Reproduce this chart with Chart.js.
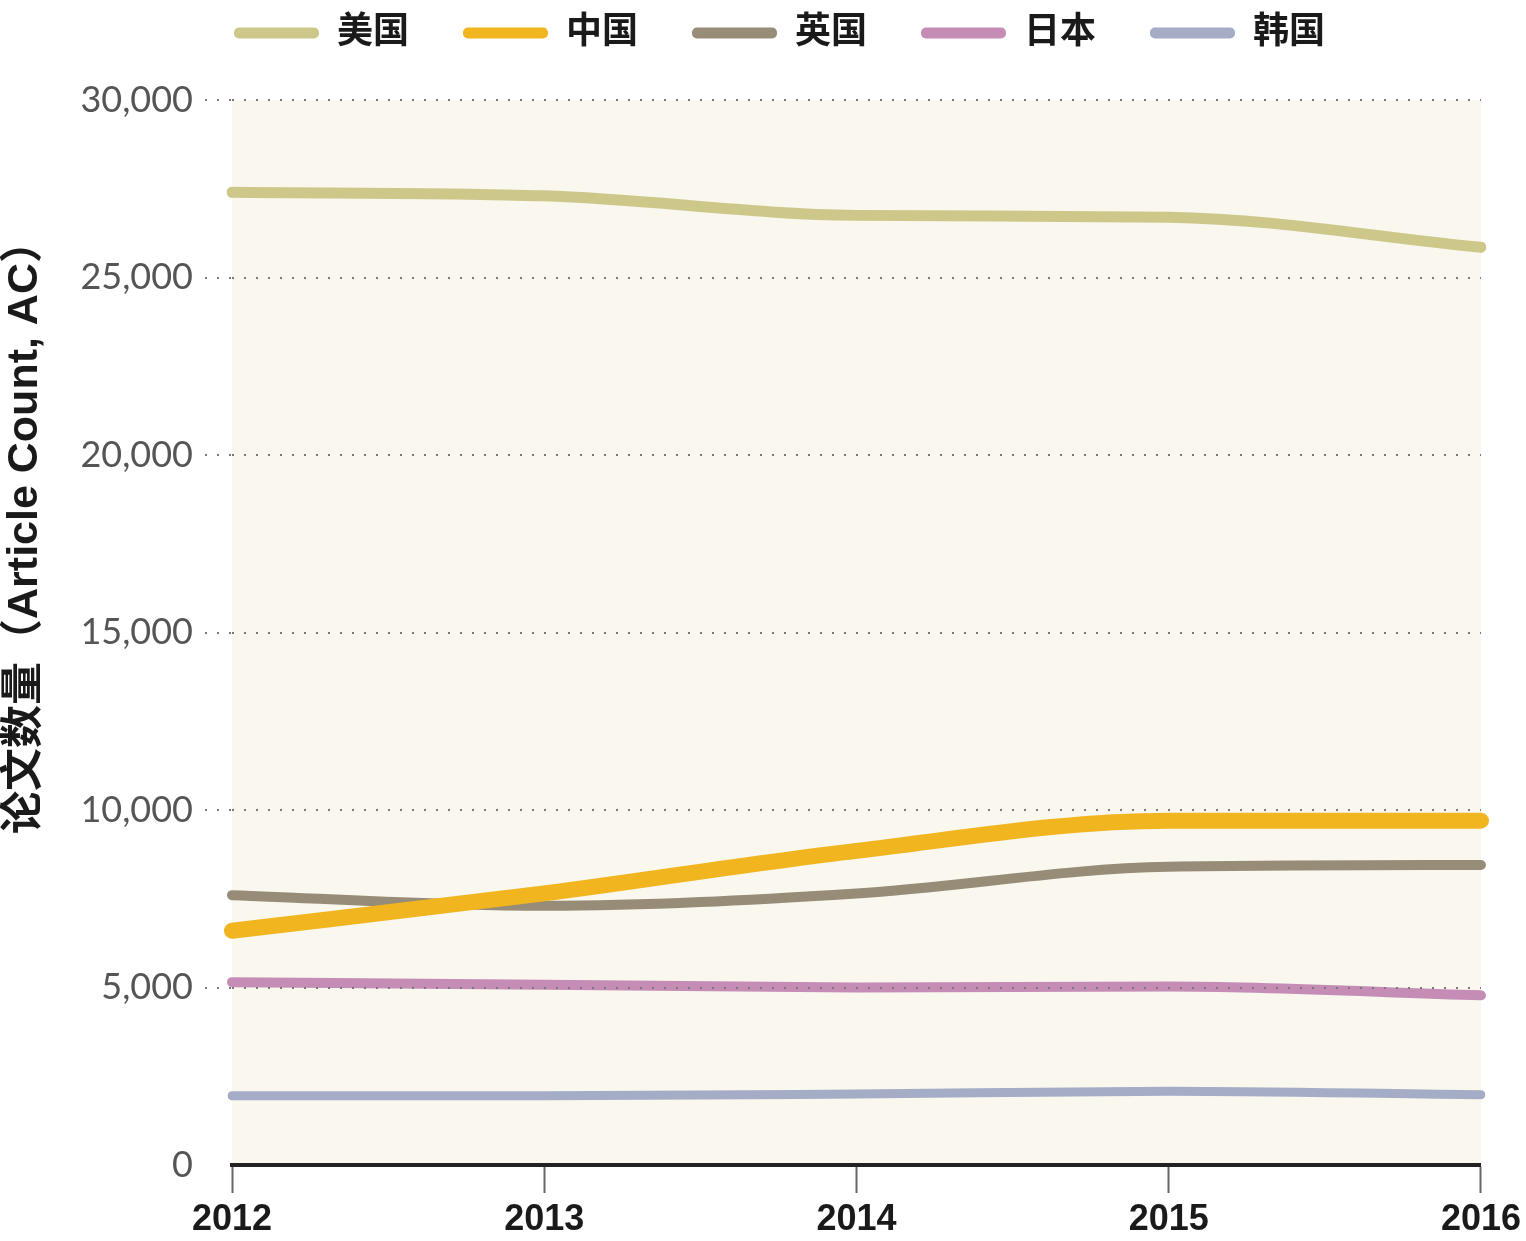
<!DOCTYPE html>
<html>
<head>
<meta charset="utf-8">
<script src="https://cdn.jsdelivr.net/npm/chart.js@4"></script>
<style>
  body { margin: 0; background: #fff; }
  canvas { display: block; }
</style>
</head>
<body>
<canvas id="acChart" width="1526" height="1241"></canvas>
<script>
// 年份
const years = ['2012', '2013', '2014', '2015', '2016'];

// 各国论文数量
const usa = [27400, 27300, 26750, 26700, 25850];
const china = [6600, 7650, 8850, 9700, 9700];
const uk = [7600, 7300, 7650, 8400, 8450];
const japan = [5150, 5080, 5000, 5030, 4780];
const korea = [1950, 1950, 2000, 2080, 1980];

const countryNames = ['美国', '中国', '英国', '日本', '韩国'];
const countryColors = ['#cdc88a', '#f1b51f', '#978c77', '#c58cb6', '#a4acc6'];
const lineWidths = [11, 16, 10, 10, 9];

const yTitle = '论文数量（Article Count, AC）';

const cjkFont = "'Liberation Sans', 'Noto Sans CJK SC', sans-serif";

const series = [usa, china, uk, japan, korea];

// 图表区背景
const areaBackground = {
  id: 'areaBackground',
  beforeDraw(chart) {
    const { ctx, chartArea: a } = chart;
    ctx.save();
    ctx.fillStyle = '#f9f7ee';
    ctx.fillRect(a.left, a.top, a.right - a.left, a.bottom - a.top);
    ctx.restore();
  }
};

// 图例位置微调
const legendShift = {
  id: 'legendShift',
  afterLayout(chart) {
    const l = chart.legend;
    l.left += 38; l.right += 38;
    l.top -= 39; l.bottom -= 39;
  }
};

// 纵轴标题
const yAxisTitle = {
  id: 'yAxisTitle',
  afterDraw(chart) {
    const ctx = chart.ctx;
    ctx.save();
    ctx.translate(25, 527);
    ctx.rotate(-Math.PI / 2);
    ctx.font = 'bold 43px ' + cjkFont;
    ctx.fillStyle = '#1a1a1a';
    ctx.textAlign = 'center';
    ctx.textBaseline = 'middle';
    ctx.fillText(yTitle, 0, 0);
    ctx.restore();
  }
};

const datasets = series.map((data, i) => ({
  label: countryNames[i],
  data: data,
  borderColor: countryColors[i],
  backgroundColor: countryColors[i],
  borderWidth: lineWidths[i],
  borderCapStyle: 'round',
  borderJoinStyle: 'round',
  cubicInterpolationMode: 'monotone',
  pointRadius: 0,
  pointHoverRadius: 0,
  fill: false
}));

const ctx = document.getElementById('acChart').getContext('2d');
const acChart = new Chart(ctx, {
  type: 'line',
  data: { labels: years, datasets: datasets },
  plugins: [areaBackground, legendShift, yAxisTitle],
  options: {
    responsive: false,
    devicePixelRatio: 1,
    animation: false,
    layout: { padding: { top: 0, right: 43, bottom: 0, left: 0 } },
    plugins: {
      tooltip: { enabled: false },
      legend: {
        position: 'top',
        maxHeight: 100,
        labels: {
          boxWidth: 85,
          boxHeight: 11,
          padding: 54,
          color: '#1a1a1a',
          font: { size: 36, weight: 'bold', family: cjkFont },
          useBorderRadius: true,
          borderRadius: 5,
          generateLabels(chart) {
            return chart.data.datasets.map((ds, i) => ({
              text: ds.label,
              fillStyle: ds.borderColor,
              strokeStyle: ds.borderColor,
              lineWidth: 0,
              hidden: false,
              datasetIndex: i,
              fontColor: '#1a1a1a',
              borderRadius: 5
            }));
          }
        }
      }
    },
    scales: {
      x: {
        offset: false,
        border: { display: true, color: '#222', width: 4, z: 1 },
        grid: {
          drawOnChartArea: false,
          drawTicks: true,
          tickLength: 28,
          tickColor: '#666',
          tickWidth: 2
        },
        ticks: {
          color: '#1a1a1a',
          padding: 5,
          maxRotation: 0,
          font: { size: 36, weight: 'bold', family: "'Liberation Sans', sans-serif" }
        },
        afterFit(scale) { scale.height = 76; }
      },
      y: {
        min: 0,
        max: 30000,
        border: { display: false, dash: [2, 10] },
        grid: {
          z: 1,
          color: c => (c.tick && c.tick.value === 0 ? 'rgba(0,0,0,0)' : '#7a7a7a'),
          lineWidth: 2,
          tickBorderDash: [2, 10],
          tickLength: 27
        },
        ticks: {
          stepSize: 5000,
          color: '#555',
          padding: 12,
          font: { size: 36, family: "Lato, 'Liberation Sans', sans-serif" }
        },
        afterFit(scale) { scale.width = 232; }
      }
    }
  }
});
</script>
</body>
</html>
